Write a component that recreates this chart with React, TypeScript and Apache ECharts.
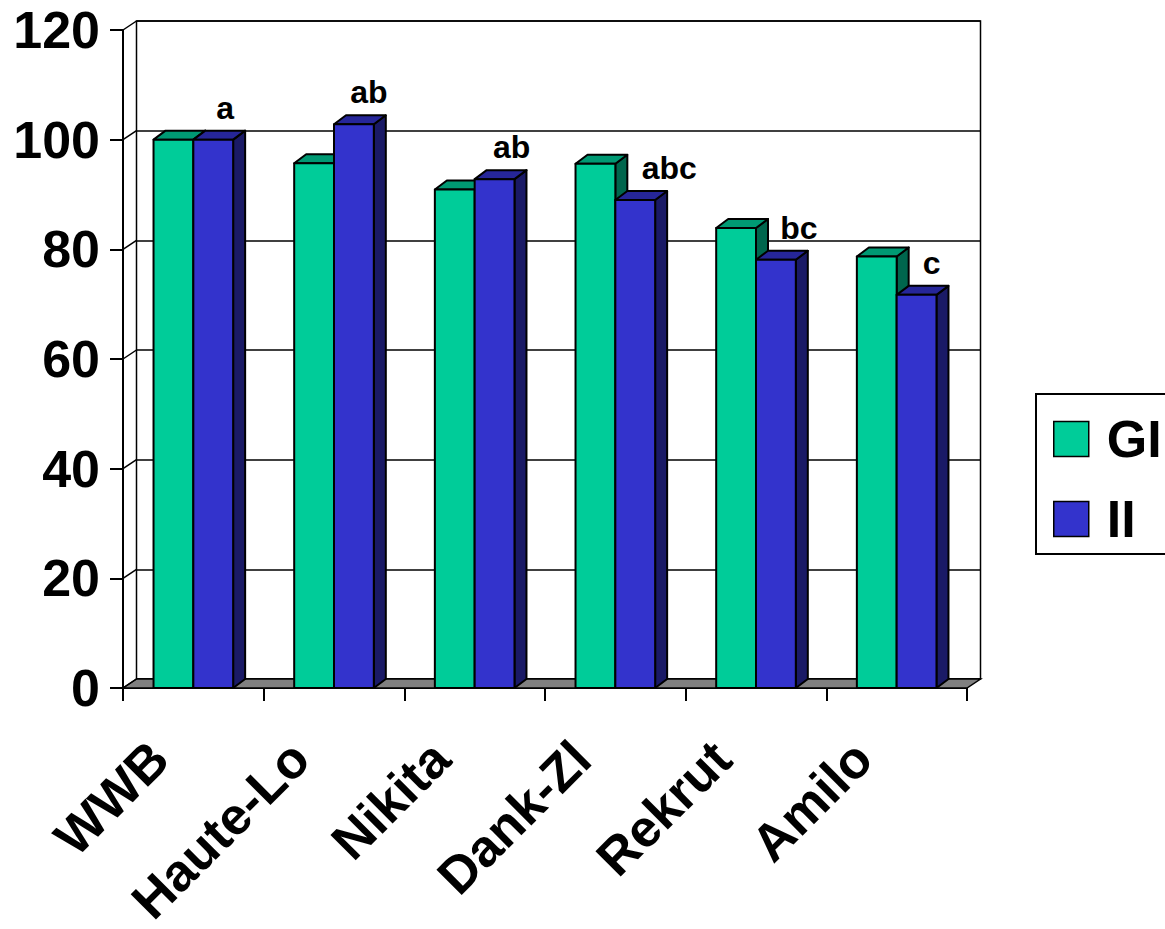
import React, { useEffect, useRef } from 'react';
import * as echarts from 'echarts';

// Rye varieties vs. white wheat bread (WWB = 100)
const categories = ['WWB', 'Haute-Lo', 'Nikita', 'Dank-Zl', 'Rekrut', 'Amilo'];
const seriesNames = ['GI', 'II'];
const valuesGI = [100, 95.7, 90.9, 95.6, 83.9, 78.7];
const valuesII = [100, 102.8, 92.8, 89.0, 78.1, 71.7];
const groupLetters = ['a', 'ab', 'ab', 'abc', 'bc', 'c'];
const yTicks = [0, 20, 40, 60, 80, 100, 120];

const FONT = "'Liberation Sans', Arial, Helvetica, sans-serif";

// oblique "3-D" depth of the walls and of the columns
const WALL_DX = 13.5;
const WALL_DY = -9;
const BAR_DX = 12;
const BAR_DY = -9;
const BAR_FRACTION = 0.283;

// horizontal nudge of each letter group above the II column
const letterNudge = [12, 15, 17, 34, 23, 15];

const faces = {
  GI: { front: '#00CC99', top: '#009973', side: '#00664D' },
  II: { front: '#3333CC', top: '#262699', side: '#1A1A66' },
};

const outline = { stroke: '#000', lineWidth: 2, lineJoin: 'round' as const };

function columnRenderer(slot: number, face: { front: string; top: string; side: string }, letters?: string[]) {
  return (params: any, api: any) => {
    const idx = api.value(0);
    const val = api.value(1);
    const [cx, yTop] = api.coord([idx, val]);
    const yBase = api.coord([idx, 0])[1];
    const band = api.size([1, 0])[0];
    const w = band * BAR_FRACTION;
    const x0 = cx + slot * w;
    const x1 = x0 + w;
    const children: any[] = [
      {
        type: 'polygon',
        shape: { points: [[x1, yTop], [x1 + BAR_DX, yTop + BAR_DY], [x1 + BAR_DX, yBase + BAR_DY], [x1, yBase]] },
        style: { fill: face.side, ...outline },
      },
      {
        type: 'polygon',
        shape: { points: [[x0, yTop], [x1, yTop], [x1 + BAR_DX, yTop + BAR_DY], [x0 + BAR_DX, yTop + BAR_DY]] },
        style: { fill: face.top, ...outline },
      },
      {
        type: 'rect',
        shape: { x: x0, y: yTop, width: w, height: yBase - yTop },
        style: { fill: face.front, ...outline },
      },
    ];
    if (letters) {
      children.push({
        type: 'text',
        style: {
          text: letters[params.dataIndex],
          x: x0 + w / 2 + letterNudge[params.dataIndex],
          y: yTop - 32,
          textAlign: 'center',
          textVerticalAlign: 'middle',
          font: `bold 32px ${FONT}`,
          fill: '#000',
        },
      });
    }
    return { type: 'group', children };
  };
}

export default function App() {
  const ref = useRef<HTMLDivElement>(null);

  useEffect(() => {
    if (!ref.current) return;
    const chart = echarts.init(ref.current, undefined, { renderer: 'svg' });

    const axisFont = { fontFamily: FONT, fontSize: 52, fontWeight: 'bold' as const, color: '#000' };

    chart.setOption({
      animation: false,
      backgroundColor: '#fff',
      grid: [
        { left: 123, top: 30, width: 844, height: 658, outerBoundsMode: 'none', containLabel: false },
        {
          left: 123 + WALL_DX,
          top: 30 + WALL_DY,
          width: 844,
          height: 658,
          outerBoundsMode: 'none',
          containLabel: false,
          show: true,
          backgroundColor: '#fff',
          borderColor: '#000',
          borderWidth: 1.5,
        },
      ],
      xAxis: [
        {
          type: 'category',
          gridIndex: 0,
          data: categories,
          axisLine: { lineStyle: { color: '#000', width: 2 } },
          axisTick: { show: true, length: 13, interval: 0, lineStyle: { color: '#000', width: 2 } },
          axisLabel: { ...axisFont, rotate: 45, interval: 0, margin: 28, padding: [0, 48, 0, 0] },
        },
        { type: 'category', gridIndex: 1, data: categories, show: false },
      ],
      yAxis: [
        {
          type: 'value',
          gridIndex: 0,
          min: 0,
          max: 120,
          interval: 20,
          axisLine: { show: true, lineStyle: { color: '#000', width: 2 } },
          axisTick: { show: true, length: 13, lineStyle: { color: '#000', width: 2 } },
          axisLabel: { ...axisFont, margin: 23 },
          splitLine: { show: false },
        },
        {
          type: 'value',
          gridIndex: 1,
          min: 0,
          max: 120,
          interval: 20,
          axisLine: { show: false },
          axisTick: { show: false },
          axisLabel: { show: false },
          splitLine: { show: true, lineStyle: { color: '#000', width: 1.5 } },
        },
      ],
      legend: {
        data: seriesNames,
        orient: 'vertical',
        left: 1036,
        top: 394,
        padding: [14, 40, 4, 17],
        itemWidth: 35,
        itemHeight: 35,
        itemGap: 18,
        icon: 'rect',
        borderColor: '#000',
        borderWidth: 2,
        backgroundColor: '#fff',
        itemStyle: { borderColor: '#000', borderWidth: 1.5 },
        textStyle: { ...axisFont, lineHeight: 62, padding: [0, 0, 0, 13] },
      },
      series: [
        {
          type: 'custom',
          name: 'floor',
          xAxisIndex: 0,
          yAxisIndex: 0,
          silent: true,
          data: [[0, 0]],
          renderItem: (params: any, api: any) => {
            const band = api.size([1, 0])[0];
            const [c0, y0] = api.coord([0, 0]);
            const cN = api.coord([categories.length - 1, 0])[0];
            const l = c0 - band / 2;
            const r = cN + band / 2;
            return {
              type: 'polygon',
              shape: { points: [[l, y0], [r, y0], [r + WALL_DX, y0 + WALL_DY], [l + WALL_DX, y0 + WALL_DY]] },
              style: { fill: '#808080', stroke: '#000', lineWidth: 1.5 },
            };
          },
        },
        {
          type: 'custom',
          name: 'sideWall',
          xAxisIndex: 0,
          yAxisIndex: 0,
          silent: true,
          data: yTicks.map((v) => [0, v]),
          renderItem: (params: any, api: any) => {
            const band = api.size([1, 0])[0];
            const [c0, y] = api.coord([0, api.value(1)]);
            const l = c0 - band / 2;
            return {
              type: 'line',
              shape: { x1: l, y1: y, x2: l + WALL_DX, y2: y + WALL_DY },
              style: { stroke: '#000', lineWidth: 1.5 },
            };
          },
        },
        {
          type: 'custom',
          name: seriesNames[0],
          xAxisIndex: 0,
          yAxisIndex: 0,
          itemStyle: { color: faces.GI.front },
          data: valuesGI.map((v, i) => [i, v]),
          renderItem: columnRenderer(-1, faces.GI),
        },
        {
          type: 'custom',
          name: seriesNames[1],
          xAxisIndex: 0,
          yAxisIndex: 0,
          itemStyle: { color: faces.II.front },
          data: valuesII.map((v, i) => [i, v]),
          renderItem: columnRenderer(0, faces.II, groupLetters),
        },
      ],
    });

    return () => chart.dispose();
  }, []);

  return <div ref={ref} style={{ position: 'absolute', left: 0, top: 0, width: 1165, height: 929 }} />;
}
